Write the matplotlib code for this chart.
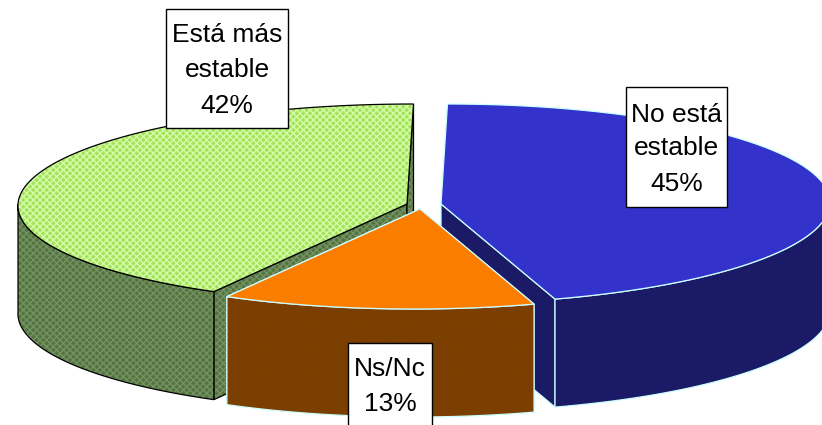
import numpy as np
import matplotlib
matplotlib.use("Agg")
import matplotlib.pyplot as plt
from matplotlib.patches import Polygon, Rectangle

# data
categories = ['No está\nestable', 'Ns/Nc', 'Está más\nestable']
shares = [45, 13, 42]

# fake 3d pie geometry (pixels)
rx, ry = 389, 100
depth = 108
skew = -0.065
centers = [(441, 204), (420, 209), (407, 204)]
top_colors = ['#3333CC', '#FF8000', '#A8E058']
top_hatch = [None, '#FA7D00', '#CFFFAA']
side_colors = ['#1A1A66', '#804000', '#527636']
side_hatch = [None, '#7A3E00', '#75906A']
edge_colors = ['#CCFFFF', '#CCFFFF', '#000000']
hatch_style = [None, 'xxxxxxxx', 'xxxxx']

# label boxes: x0, y0, x1, y1
boxes = [(626, 87, 727, 207), (348, 343, 432, 445), (166, 9, 288, 128)]
label_y = [(115, 148, 184), (369, 404), (35, 70, 106)]

plt.rcParams['font.family'] = ['Liberation Sans', 'DejaVu Sans']
plt.rcParams['hatch.linewidth'] = 1.0

fig = plt.figure(figsize=(8.22, 4.25), dpi=100)
ax = fig.add_axes([0, 0, 1, 1])
ax.set_xlim(0, 822)
ax.set_ylim(425, 0)
ax.axis('off')


def rim(center, a0, a1, n=80):
    t = np.radians(np.linspace(a0, a1, n))
    dy = -ry * np.cos(t)
    dx = rx * np.sin(t) + skew * dy
    return np.column_stack([center[0] + dx, center[1] + dy])


def face(pts, color, hatch_color, hatch, edge, zo):
    ax.add_patch(Polygon(pts, closed=True, facecolor=color, edgecolor='none', zorder=zo))
    if hatch_color:
        ax.add_patch(Polygon(pts, closed=True, facecolor='none', edgecolor=hatch_color,
                             hatch=hatch, linewidth=0, zorder=zo))
    ax.add_patch(Polygon(pts, closed=True, facecolor='none', edgecolor=edge, linewidth=0.9, zorder=zo))


def wall(p, i, zo):
    down = p[::-1] + np.array([0, depth])
    face(np.vstack([p, down]), side_colors[i], side_hatch[i], hatch_style[i], edge_colors[i], zo)


angles = np.cumsum([0] + shares) * 3.6
draw_order = [2, 0, 1]
for k, i in enumerate(draw_order):
    c = np.array(centers[i], dtype=float)
    a0, a1 = angles[i], angles[i + 1]
    zo = 2 + k * 3
    # cut faces
    wall(np.array([c, rim(c, a0, a0, 1)[0]]), i, zo)
    wall(np.array([c, rim(c, a1, a1, 1)[0]]), i, zo)
    # outer wall, only the part facing front
    f0, f1 = max(a0, 90), min(a1, 270)
    if f1 > f0:
        wall(rim(c, f0, f1), i, zo + 1)
    # top
    face(np.vstack([c, rim(c, a0, a1)]), top_colors[i], top_hatch[i], hatch_style[i], edge_colors[i], zo + 2)

for i in range(3):
    x0, y0, x1, y1 = boxes[i]
    ax.add_patch(Rectangle((x0, y0), x1 - x0, y1 - y0, facecolor='white', edgecolor='black',
                           linewidth=1.0, zorder=20))
    lines = (categories[i] + '\n' + str(shares[i]) + '%').split('\n')
    for line, y in zip(lines, label_y[i]):
        ax.text((x0 + x1) / 2, y, line, ha='center', va='center', fontsize=19, color='black', zorder=21)

fig.savefig('out.png', dpi=100)
